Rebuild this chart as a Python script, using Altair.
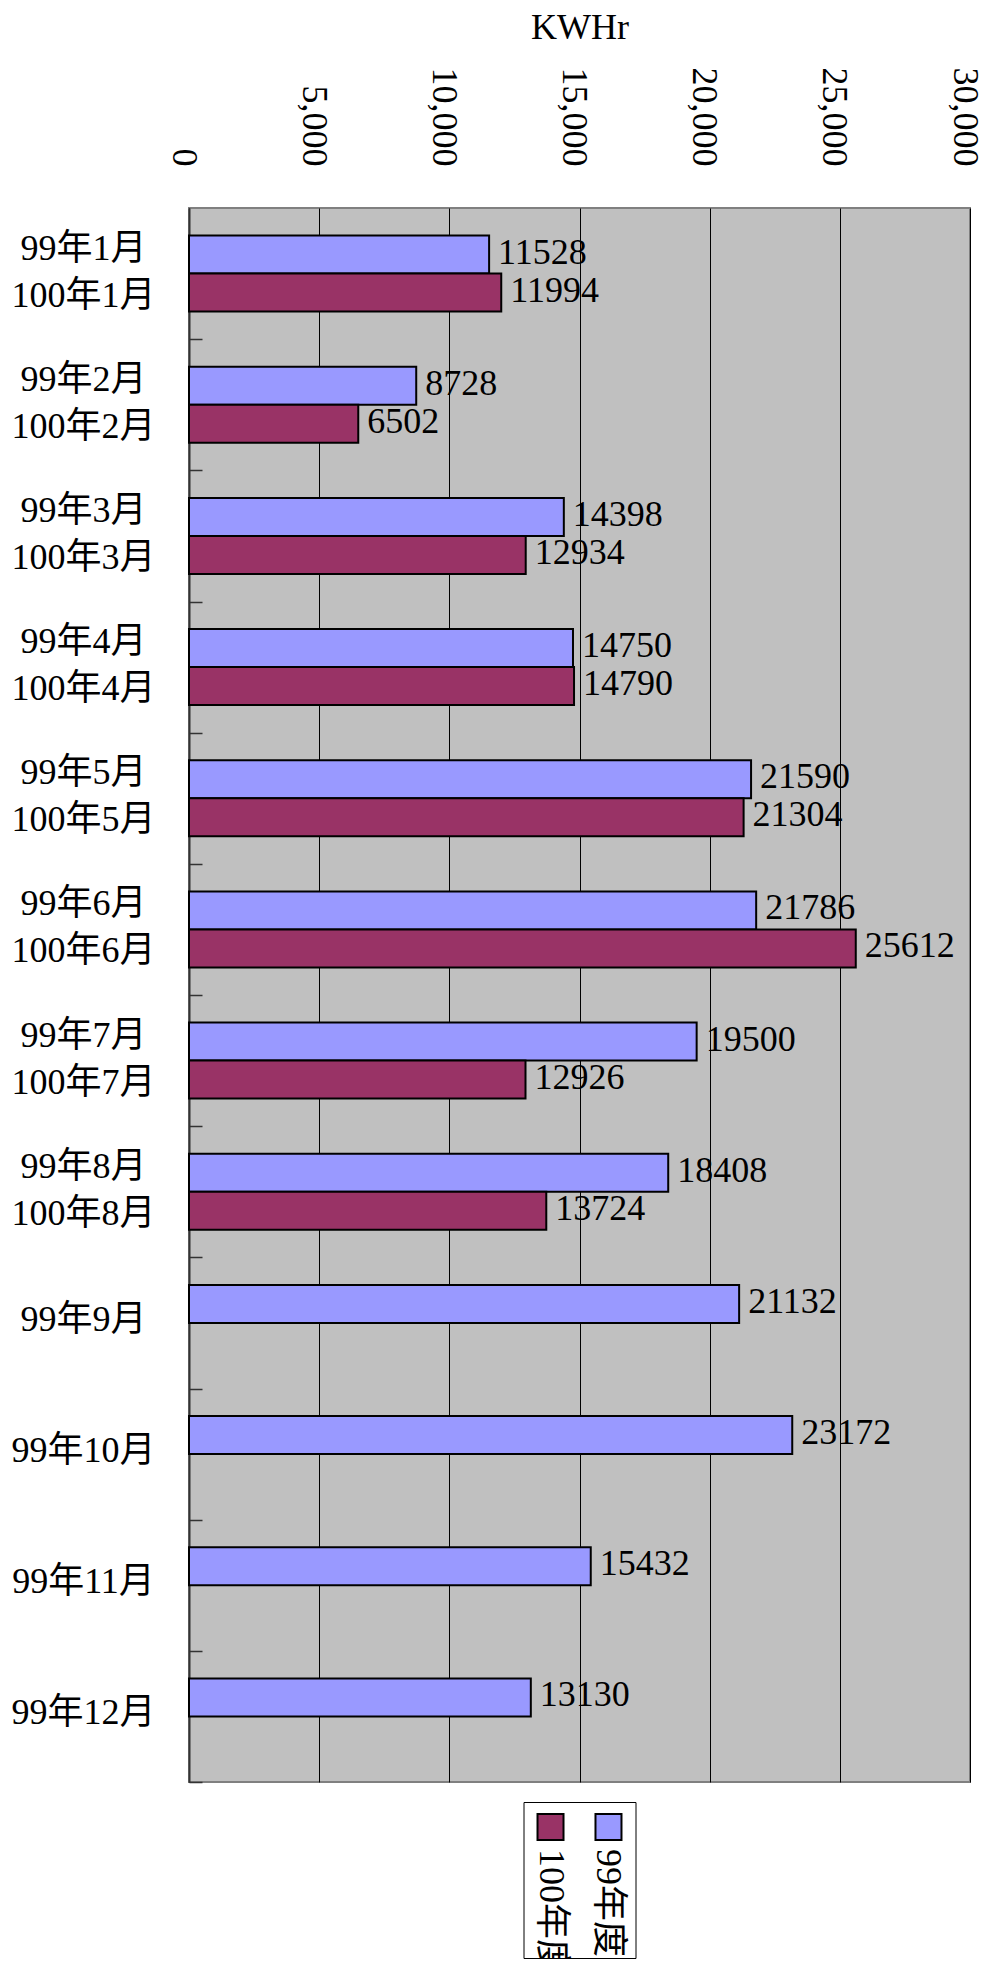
import altair as alt
import pandas as pd

# ---- data ----
categories = [
    "99年1月|100年1月", "99年2月|100年2月", "99年3月|100年3月", "99年4月|100年4月",
    "99年5月|100年5月", "99年6月|100年6月", "99年7月|100年7月", "99年8月|100年8月",
    "99年9月", "99年10月", "99年11月", "99年12月",
]
series = ["99年度", "100年度"]
values_99 = [11528, 8728, 14398, 14750, 21590, 21786, 19500, 18408, 21132, 23172, 15432, 13130]
values_100 = [11994, 6502, 12934, 14790, 21304, 25612, 12926, 13724]
x_ticks = [0, 5000, 10000, 15000, 20000, 25000, 30000]
colors = ["#9999FF", "#993366"]

rows = []
for i, c in enumerate(categories):
    rows.append({"cat": c, "series": series[0], "value": values_99[i]})
    if i < len(values_100):
        rows.append({"cat": c, "series": series[1], "value": values_100[i]})
df = pd.DataFrame(rows)

FONT = "Liberation Serif, Noto Sans CJK TC"
FS = 36
W, H = 781, 1574
P_IN, P_OUT = 0.42, 0.21
STEP = H / (len(categories) - P_IN + 2 * P_OUT)

x_scale = alt.Scale(domain=[0, 30000], nice=False)
y_scale = alt.Scale(domain=categories, paddingInner=P_IN, paddingOuter=P_OUT)
off_scale = alt.Scale(domain=series, paddingInner=0, paddingOuter=0)
color_scale = alt.Scale(domain=series, range=colors)

x_axis = alt.Axis(
    orient="top", values=x_ticks, labelExpr="format(datum.value, ',')", labelAngle=90,
    labelAlign="right", labelBaseline="middle", labelPadding=42, labelFlush=False,
    labelOffset=-6,
    ticks=False, domain=False, grid=True, gridColor="black", gridWidth=1,
    labelFont=FONT, labelFontSize=FS, labelColor="black",
    title="KWHr", titleFont=FONT, titleFontSize=FS, titleFontWeight="normal",
    titleColor="black", titlePadding=21)

base = alt.Chart(df)

bars = base.mark_bar(stroke="black", strokeWidth=2).encode(
    x=alt.X("value:Q", scale=x_scale, axis=x_axis),
    y=alt.Y("cat:N", scale=y_scale, sort=categories, axis=alt.Axis(
        title=None, labelExpr="split(datum.label, '|')", labelAlign="center",
        labelBaseline="middle", labelPadding=106, labelLineHeight=47,
        labelOffset={"condition": {"test": "indexof(datum.value, '|') >= 0", "value": -25}, "value": -3},
        labelFont=FONT, labelFontSize=FS, labelColor="black", labelLimit=0,
        ticks=False, domainColor="#333333", domainWidth=2, grid=False)),
    yOffset=alt.YOffset("series:N", scale=off_scale),
    color=alt.Color("series:N", scale=color_scale, legend=None),
)

labels = base.mark_text(align="left", baseline="middle", dx=9, dy=-2,
                        font=FONT, fontSize=FS, color="black").encode(
    x=alt.X("value:Q", scale=x_scale),
    y=alt.Y("cat:N", scale=y_scale, sort=categories, axis=alt.Axis(
        orient="right", offset=-W, labels=False, domain=False, grid=False,
        ticks=True, tickSize=13, bandPosition=1, tickExtra=False,
        tickOffset=P_IN * STEP / 2,
        tickColor="#333333", tickWidth=1.5, title=None)),
    yOffset=alt.YOffset("series:N", scale=off_scale),
    text=alt.Text("value:Q"),
)

main = alt.layer(bars, labels).resolve_axis(y="independent").properties(
    width=W, height=H,
    view=alt.ViewBackground(fill="#C0C0C0", stroke="#808080", strokeWidth=2),
)

leg_df = pd.DataFrame({"series": series})
leg_x = alt.X("series:N", scale=alt.Scale(type="point", domain=["100年度", "99年度"], padding=0.466), axis=None)
swatch = alt.Chart(leg_df).mark_square(size=676, stroke="black", strokeWidth=2, opacity=1, filled=True).encode(
    x=leg_x, y=alt.value(25),
    color=alt.Color("series:N", scale=color_scale, legend=None),
)
leg_text = alt.Chart(leg_df).mark_text(angle=90, align="left", baseline="middle", clip=True,
                                       font=FONT, fontSize=FS, color="black").encode(
    x=leg_x, y=alt.value(47), text="series:N",
)
legend = alt.layer(swatch, leg_text).properties(
    width=112, height=156,
    view=alt.ViewBackground(fill="white", stroke="black", strokeWidth=1),
)

chart = alt.vconcat(main, legend, spacing=20, center=True, bounds="flush").properties(
    padding={"left": 1, "top": 0, "right": -3, "bottom": 0},
    background="white",
)

chart.save("out.html", embed_options={"renderer": "svg", "actions": False})
